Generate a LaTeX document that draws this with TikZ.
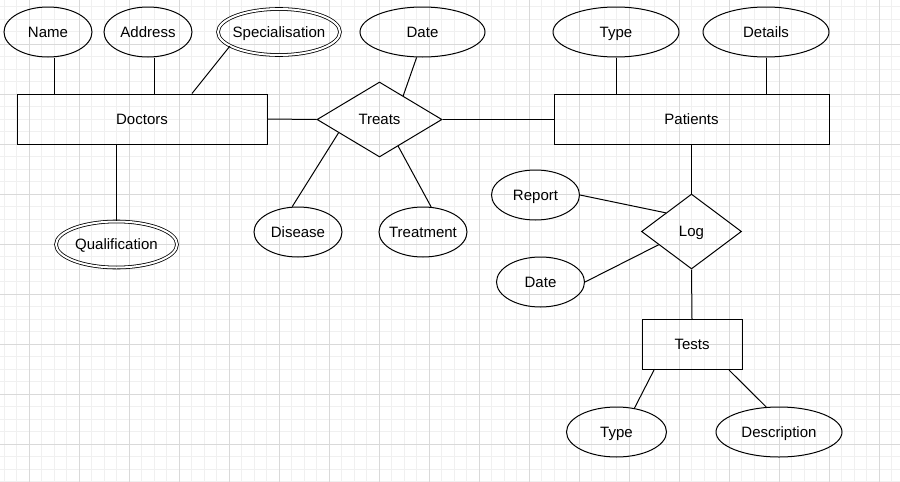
\documentclass[tikz,border=0pt]{standalone}
\usepackage{fontspec}
\setmainfont{Liberation Sans}
\usetikzlibrary{shapes.geometric}

\definecolor{gridmajor}{HTML}{D9D9D9}
\definecolor{gridminor}{HTML}{F0F0F0}

\tikzset{
  entity/.style={draw, line width=1pt, rectangle, inner sep=0pt},
  attrib/.style={draw, line width=1pt, ellipse, inner ysep=0pt, inner xsep=-8pt, minimum height=50},
  multiattr/.style={draw, line width=0.8pt, double, double distance=2pt, ellipse, inner ysep=0pt, inner xsep=-8pt, minimum height=46},
  relship/.style={draw, line width=1pt, diamond, inner sep=0pt},
  link/.style={line width=1pt},
}

\begin{document}
\begin{tikzpicture}[x=1pt, y=-1pt, every node/.style={font=\fontsize{15}{18}\selectfont, text height=10.8pt, text depth=0.4pt}]

\useasboundingbox (0,0) rectangle (900,482);
\fill[white] (0,0) rectangle (900,482);

% grid
\foreach \x in {4,16.5,...,899} \draw[gridminor, line width=1pt] (\x,0) -- (\x,482);
\foreach \y in {6.8,19.3,...,482} \draw[gridminor, line width=1pt] (0,\y) -- (900,\y);
\foreach \x in {29,79,...,879} \draw[gridmajor, line width=1pt] (\x,0) -- (\x,482);
\foreach \y in {44.3,94.3,...,444.3} \draw[gridmajor, line width=1pt] (0,\y) -- (900,\y);

% entities
\node[entity, minimum width=250, minimum height=50] (doctors) at (142,119) {Doctors};
\node[entity, minimum width=275, minimum height=50] (patients) at (691.5,119) {Patients};
\node[entity, minimum width=100, minimum height=50] (tests) at (692,344.5) {Tests};

% relationships
\node[relship, minimum width=125, minimum height=75] (treats) at (379.5,119.5) {Treats};
\node[relship, minimum width=100, minimum height=75] (log) at (691.5,231.5) {Log};

% attributes
\node[attrib, minimum width=88] (name) at (48,32) {Name};
\node[attrib, minimum width=88] (address) at (148,32) {Address};
\node[multiattr, minimum width=122] (spec) at (279,32) {Specialisation};
\node[multiattr, minimum width=121] (qual) at (116.5,244.5) {Qualification};
\node[attrib, minimum width=125] (tdate) at (422.5,32) {Date};
\node[attrib, minimum width=88] (disease) at (298,232) {Disease};
\node[attrib, minimum width=88] (treatment) at (423,232) {Treatment};
\node[attrib, minimum width=126] (ptype) at (616,32) {Type};
\node[attrib, minimum width=126] (details) at (766,32) {Details};
\node[attrib, minimum width=88] (report) at (535.5,195) {Report};
\node[attrib, minimum width=88] (ldate) at (540.5,282) {Date};
\node[attrib, minimum width=100] (ttype) at (616.5,432) {Type};
\node[attrib, minimum width=126] (descr) at (779,432) {Description};

% connectors
\draw[link] ([xshift=6pt]name.south) -- ([xshift=6pt]name.south |- doctors.north); % name
\draw[link] ([xshift=6pt]address.south) -- ([xshift=6pt]address.south |- doctors.north); % address
\draw[link] (spec.196) -- ([xshift=50pt]doctors.north); % specialisation
\draw[link] (qual.north) -- (qual.north |- doctors.south); % qualification
\draw[link] (doctors.east) -- (treats.west);
\draw[link] (treats.east) -- (treats.east -| patients.west);
\draw[link] (tdate.257) -- (treats.45);
\draw[link] (treats.198) -- (disease.103);
\draw[link] (treats.305) -- (treatment.72);
\draw[link] (ptype.south) -- (ptype.south |- patients.north);
\draw[link] (details.south) -- (details.south |- patients.north);
\draw[link] (patients.south) -- (log.north);
\draw[link] (report.east) -- (log.144);
\draw[link] (ldate.east) -- (log.202);
\draw[link] (log.south) -- (tests.north);
\draw[link] ([xshift=-38pt]tests.south) -- (ttype.53);
\draw[link] ([xshift=37pt]tests.south) -- (descr.117);

\end{tikzpicture}
\end{document}
